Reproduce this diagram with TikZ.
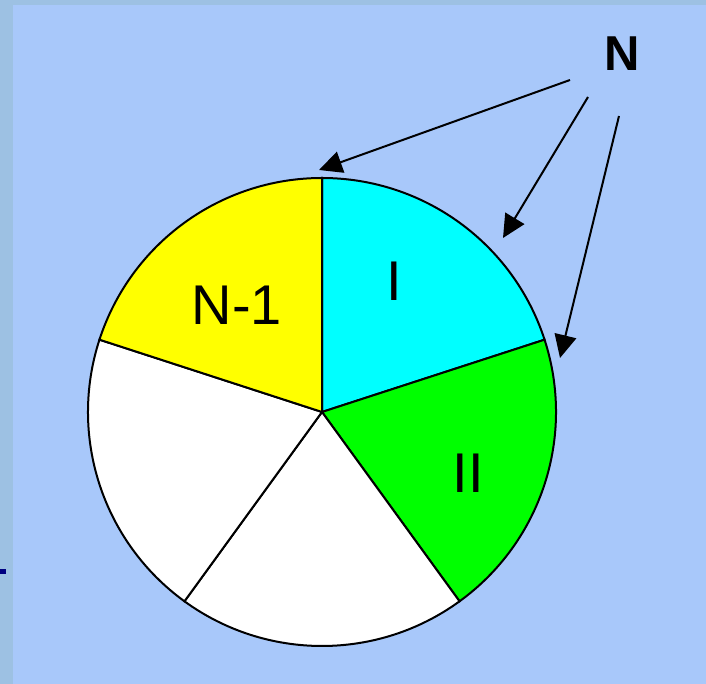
\documentclass[tikz,border=0pt]{standalone}
\usepackage{fontspec}
\setmainfont{Liberation Sans}
\usetikzlibrary{arrows.meta}
\definecolor{slide}{RGB}{157,193,227}
\definecolor{panel}{RGB}{168,200,250}
\definecolor{pieyellow}{RGB}{255,255,0}
\definecolor{piecyan}{RGB}{0,255,255}
\definecolor{piegreen}{RGB}{0,255,0}
\tikzset{
  sector/.style={draw=black, line width=2pt},
  lbl/.style={font=\fontsize{56}{60}\selectfont, inner sep=0pt},
}
\begin{document}
\begin{tikzpicture}[x=1pt, y=1pt, >={Triangle[length=23pt,width=22pt]}]
 \useasboundingbox (0,0) rectangle (706,684);
 % background of the slide
 \fill[slide] (0,0) rectangle (706,684);
 \fill[panel] (13,0) rectangle (706,679);
 \fill[blue!50!black] (0,110) rectangle (6,115);
 % the pie
 \coordinate (c) at (322,272);
 \draw[sector, fill=piecyan] (c) -- ++(18:234) arc (18:90:234) -- cycle;
 \draw[sector, fill=piegreen] (c) -- ++(-54:234) arc (-54:18:234) -- cycle;
 \draw[sector, fill=white] (c) -- ++(-126:234) arc (-126:-54:234) -- cycle;
 \draw[sector, fill=white] (c) -- ++(162:234) arc (162:234:234) -- cycle;
 \draw[sector, fill=pieyellow] (c) -- ++(90:234) arc (90:162:234) -- cycle;
 \node[lbl] (nm1) at (237,379) {N-1};
 \node[lbl] (one) at (394,403) {I};
 \node[lbl] (two) at (468,211) {II};
 % the label N and its arrows
 \node[lbl, font=\fontsize{49}{52}\selectfont\bfseries] (n) at (622,630) {N};
 \coordinate (s1) at (570,604);
 \coordinate (s2) at (588,587);
 \coordinate (s3) at (619,568);
 \coordinate (t1) at (319,514);
 \coordinate (t2) at (503,446);
 \coordinate (t3) at (560,326);
 \draw[->, line width=2pt] (s1) -- (t1);
 \draw[->, line width=2pt] (s2) -- (t2);
 \draw[->, line width=2pt] (s3) -- (t3);
\end{tikzpicture}
\end{document}
